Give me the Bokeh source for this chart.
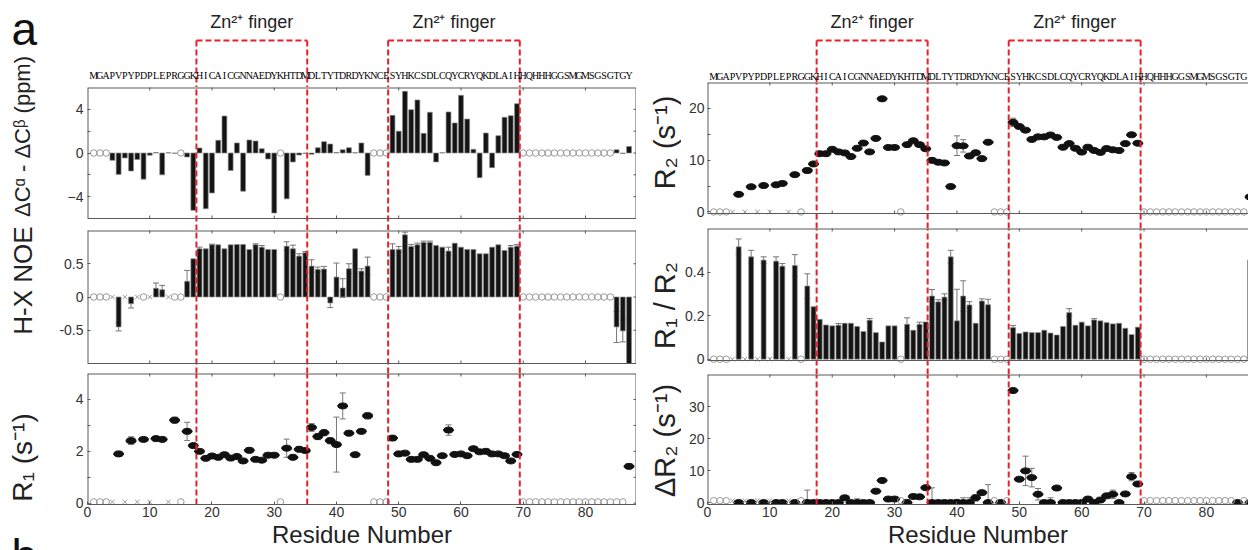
import math
from bokeh.plotting import figure
from bokeh.layouts import row, column
from bokeh.models import (Range1d, LinearAxis, FixedTicker, Whisker, TeeHead, Span,
                          ColumnDataSource, NumeralTickFormatter)
from bokeh.core.properties import value
from bokeh.embed import file_html
from bokeh.resources import INLINE

# ---------------- data ----------------
SEQUENCE = "MGAPVPYPDPLEPRGGKHICAICGNNAEDYKHTDMDLTYTDRDYKNCESYHKCSDLCQYCRYQKDLAIHHQHHHGGSMGMSGSGTGY"
RESIDUES = list(range(1, len(SEQUENCE) + 1))
ZN_FINGERS = [(17.5, 35.3), (48.3, 69.45)]
ZN_LABEL = "Zn²⁺ finger"
X_TICKS = [0, 10, 20, 30, 40, 50, 60, 70, 80]

dca_dcb = {4: -0.67, 5: -1.96, 6: -0.45, 7: -1.65, 8: -0.6, 9: -2.4, 10: -0.2, 11: 0.05,
           12: -2.0, 13: 0.03, 14: -0.03, 16: -0.37, 17: -5.25, 18: 0.46, 19: -5.1,
           20: -3.66, 21: 1.16, 22: 3.39, 23: -1.6, 24: 0.92, 25: -3.5, 26: 1.19, 27: 1.1,
           28: 0.4, 29: -0.55, 30: -5.5, 32: -4.2, 33: -0.82, 34: -0.18, 35: -0.05,
           36: -0.12, 37: 0.49, 38: 1.04, 39: 0.82, 40: 0.05, 41: 0.3, 42: 0.49, 43: 0.03,
           44: 0.92, 45: -2.05, 49: 3.45, 50: 2.0, 51: 5.65, 52: 3.97, 53: 4.86, 54: 1.8,
           55: 3.73, 56: -0.82, 57: 0.03, 58: 3.76, 59: 2.75, 60: 5.28, 61: 3.11, 62: 0.34,
           63: -2.26, 64: 1.83, 65: -1.34, 66: 1.59, 67: 3.27, 68: 3.42, 69: 4.52,
           85: 0.3, 86: -0.05, 87: 0.6}

noe = {5: -0.45, 7: -0.1, 11: 0.13, 12: 0.11, 16: 0.235, 17: 0.575, 18: 0.725, 19: 0.725,
       20: 0.785, 21: 0.785, 22: 0.725, 23: 0.785, 24: 0.79, 25: 0.79, 26: 0.715, 27: 0.785,
       28: 0.75, 29: 0.715, 30: 0.715, 32: 0.765, 33: 0.725, 34: 0.615, 35: 0.665,
       36: 0.465, 37: 0.415, 38: 0.42, 39: -0.09, 40: 0.3, 41: 0.135, 42: 0.425, 43: 0.725,
       44: 0.39, 45: 0.465, 49: 0.715, 50: 0.715, 51: 0.935, 52: 0.76, 53: 0.785, 54: 0.82,
       55: 0.82, 56: 0.775, 57: 0.75, 58: 0.69, 59: 0.81, 60: 0.75, 61: 0.715, 62: 0.715,
       63: 0.65, 64: 0.65, 65: 0.75, 66: 0.785, 67: 0.7, 68: 0.75, 69: 0.765,
       85: -0.45, 86: -0.51, 87: -1.0}
noe_err = {5: 0.06, 7: 0.065, 11: 0.08, 12: 0.065, 16: 0.165, 18: 0.025, 20: 0.01, 27: 0.015,
           28: 0.025, 32: 0.065, 33: 0.055, 34: 0.035, 35: 0.02, 36: 0.095, 37: 0.035,
           38: 0.04, 39: 0.07, 40: 0.21, 41: 0.14, 42: 0.075, 44: 0.035, 45: 0.135,
           49: 0.085, 50: 0.045, 51: 0.04, 52: 0.03, 53: 0.025, 54: 0.02, 55: 0.02, 58: 0.06,
           68: 0.025, 69: 0.025, 85: 0.235, 86: 0.165}

r1 = {5: 1.9, 7: 2.41, 9: 2.46, 11: 2.49, 12: 2.46, 14: 3.2, 16: 2.77, 17: 2.22, 18: 2.0,
      19: 1.73, 20: 1.82, 21: 1.77, 22: 1.87, 23: 1.74, 24: 1.8, 25: 1.63, 26: 2.04,
      27: 1.69, 28: 1.66, 29: 1.85, 30: 1.85, 32: 2.12, 33: 1.77, 34: 2.08, 35: 2.03,
      36: 2.92, 37: 2.57, 38: 2.72, 39: 2.41, 40: 2.26, 41: 3.75, 42: 2.7, 43: 1.87,
      44: 2.77, 45: 3.37, 49: 2.51, 50: 1.9, 51: 1.93, 52: 1.69, 53: 1.69, 54: 1.87,
      55: 1.73, 56: 1.56, 57: 1.83, 58: 2.82, 59: 1.88, 60: 1.9, 61: 1.83, 62: 2.1,
      63: 1.98, 64: 2.0, 65: 1.9, 66: 1.9, 67: 1.83, 68: 1.63, 69: 1.88, 87: 1.42}
r1_err = {5: 0.1, 7: 0.15, 14: 0.12, 16: 0.35, 26: 0.1, 32: 0.35, 34: 0.1, 36: 0.15,
          37: 0.12, 38: 0.12, 39: 0.12, 40: 1.06, 41: 0.5, 42: 0.1, 45: 0.12, 50: 0.1, 58: 0.2}

r2 = {5: 3.4, 7: 4.86, 9: 5.1, 11: 5.24, 12: 5.5, 14: 7.2, 16: 8.0, 17: 9.27, 18: 11.25,
      19: 11.25, 20: 12.1, 21: 11.6, 22: 11.4, 23: 10.7, 24: 12.3, 25: 13.3, 26: 11.6,
      27: 14.2, 28: 21.85, 29: 12.45, 30: 12.45, 32: 13.0, 33: 13.75, 34: 13.0, 35: 12.2,
      36: 9.97, 37: 9.6, 38: 9.46, 39: 4.9, 40: 12.8, 41: 12.76, 42: 10.8, 43: 11.43,
      44: 10.3, 45: 13.46, 49: 17.3, 50: 16.5, 51: 15.8, 52: 14.0, 53: 14.5, 54: 14.5,
      55: 14.86, 56: 14.4, 57: 12.5, 58: 13.2, 59: 12.3, 60: 11.56, 61: 12.5, 62: 11.87,
      63: 11.5, 64: 12.25, 65: 12.0, 66: 11.87, 67: 13.2, 68: 14.9, 69: 13.27, 87: 2.9}
r2_err = {40: 1.9, 41: 1.2, 45: 0.4, 49: 0.8}

r1r2 = {5: 0.516, 7: 0.47, 9: 0.455, 11: 0.45, 12: 0.427, 14: 0.43, 16: 0.336, 17: 0.241,
        18: 0.183, 19: 0.157, 20: 0.153, 21: 0.156, 22: 0.165, 23: 0.165, 24: 0.15,
        25: 0.127, 26: 0.179, 27: 0.122, 28: 0.079, 29: 0.153, 30: 0.153, 32: 0.16,
        33: 0.133, 34: 0.16, 35: 0.171, 36: 0.29, 37: 0.263, 38: 0.285, 39: 0.47, 40: 0.176,
        41: 0.29, 42: 0.249, 43: 0.165, 44: 0.267, 45: 0.25, 49: 0.145, 50: 0.118,
        51: 0.125, 52: 0.122, 53: 0.122, 54: 0.133, 55: 0.12, 56: 0.111, 57: 0.15,
        58: 0.214, 59: 0.156, 60: 0.17, 61: 0.153, 62: 0.18, 63: 0.176, 64: 0.168,
        65: 0.162, 66: 0.165, 67: 0.142, 68: 0.113, 69: 0.147, 87: 0.455}
r1r2_err = {5: 0.036, 7: 0.03, 9: 0.015, 11: 0.02, 12: 0.012, 14: 0.05, 16: 0.056, 21: 0.008,
            26: 0.008, 32: 0.03, 34: 0.01, 36: 0.03, 37: 0.01, 38: 0.015, 39: 0.03,
            40: 0.145, 41: 0.07, 42: 0.015, 44: 0.01, 45: 0.025, 49: 0.01, 58: 0.018, 62: 0.006}

dr2 = {5: 0, 7: 0, 9: 0, 11: 0, 12: 0, 14: 0, 16: 0, 17: 0, 18: 0, 19: 0, 20: 0, 21: 0,
       22: 1.5, 23: 0, 24: 0, 25: 0, 26: 0, 27: 3.55, 28: 6.9, 29: 1.1, 30: 1.1, 32: 0,
       33: 1.9, 34: 1.8, 35: 4.65, 36: 0, 37: 0, 38: 0, 39: 0, 40: 0, 41: 0, 42: 0, 43: 1.5,
       44: 3.1, 45: 0, 47: 0, 49: 35.0, 50: 7.3, 51: 9.9, 52: 7.8, 53: 2.6, 54: 0, 55: 0,
       56: 4.55, 57: 0, 58: 0, 59: 0, 60: 0, 61: 1.1, 62: 0, 63: 0.8, 64: 2.1, 65: 2.6,
       66: 0, 67: 2.7, 68: 8.1, 69: 5.8, 85: 0, 87: 0}
dr2_err = {16: 3.9, 24: 1.2, 32: 1.0, 36: 4.6, 40: 1.0, 41: 1.5, 42: 1.5, 43: 1.0, 45: 5.6,
           51: 4.6, 52: 2.9, 53: 1.8, 55: 1.5, 65: 1.3, 68: 1.3}

# ---------------- style / layout constants ----------------
FONT = "Liberation Sans"
RED = "#e8202a"
FRAME = "#5a5a5a"
GRAY = "#9a9a9a"
TXT = "#222222"
TOTAL_H = 550

# left column: label strip 0-50, panels 50-636 (frame 87-636)
L_LAB_W, L_W, L_BL, L_XEND = 50, 586, 37, 88.2
L_H = dict(head=87, p1=131, g1=12, p2=133, g2=10, p3=130, ax=47)
# right column: label strip 636-681, panels 681-1248 (frame 707-1248)
R_LAB_W, R_W, R_BL, R_XEND = 45, 567, 26, 86.75
R_H = dict(head=82, p1=131, g1=15, p2=132, g2=14, p3=130, ax=46)


def zero_borders(bl=0):
    return dict(min_border_left=bl, min_border_right=0, min_border_top=0, min_border_bottom=0)


def base_fig(width, height, x_range, y_range, **kw):
    p = figure(width=width, height=height, x_range=x_range, y_range=y_range,
               output_backend="svg", toolbar_location=None,
               x_axis_location=None, y_axis_location=None, **kw)
    p.grid.visible = False
    return p


def make_axis(ticks, minor=(), fmt=None, standoff=4):
    ax = LinearAxis(ticker=FixedTicker(ticks=list(ticks), minor_ticks=list(minor)))
    ax.axis_line_color = FRAME
    ax.major_tick_line_color = FRAME
    ax.minor_tick_line_color = FRAME
    ax.major_tick_in = 3
    ax.major_tick_out = 0
    ax.minor_tick_in = 3
    ax.minor_tick_out = 0
    ax.major_label_text_font = FONT
    ax.major_label_text_font_size = "14px"
    ax.major_label_text_color = "#333333"
    ax.major_label_standoff = standoff
    if fmt:
        ax.formatter = NumeralTickFormatter(format=fmt)
    return ax


def panel(width, bl, xend, frame_h, gap_h, ax_h, yr, yticks, yminor, right_edge,
          bottom_labels, fmt=None, standoff=4):
    """One stacked panel; its frame runs on through the gap below it so that the
    red domain lines stay continuous and edge labels are not clipped."""
    y0, y1 = yr
    upp = (y1 - y0) / frame_h          # data units per pixel
    ystart = y0 - gap_h * upp
    height = frame_h + gap_h + (ax_h if bottom_labels else 0)
    p = base_fig(width, height, Range1d(0, xend), Range1d(ystart, y1),
                 outline_line_color=None, **zero_borders(bl))
    yax = make_axis(yticks, yminor, fmt, standoff)
    yax.axis_line_color = None
    p.add_layout(yax, "left")

    edges = [0] + ([xend] if right_edge else [])
    p.segment(x0=edges, y0=[y0] * len(edges), x1=edges, y1=[y1] * len(edges),
              line_color=FRAME, line_width=2)
    p.add_layout(Span(location=y1, dimension="width", line_color=FRAME, line_width=2))

    tick_xs = [t for t in X_TICKS if t > 0]
    p.scatter(tick_xs, [y1] * len(tick_xs), marker="dash", angle=math.pi / 2, size=6,
              line_color=FRAME, line_width=1)
    if bottom_labels:
        bx = make_axis(X_TICKS, standoff=2)
        bx.axis_label = "Residue Number"
        bx.axis_label_text_font = FONT
        bx.axis_label_text_font_size = "24px"
        bx.axis_label_text_font_style = "normal"
        bx.axis_label_text_color = TXT
        bx.axis_label_standoff = 1
        p.add_layout(bx, "below")
    else:
        p.add_layout(Span(location=y0, dimension="width", line_color=FRAME, line_width=1))
        p.segment(x0=tick_xs, y0=[y0] * len(tick_xs), x1=tick_xs,
                  y1=[y0 + 3 * upp] * len(tick_xs), line_color=FRAME, line_width=1)
    if right_edge:
        ys = list(yticks) + list(yminor)
        p.scatter([xend] * len(ys), ys, marker="dash", size=6, line_color=FRAME,
                  line_width=1)
    return p, ystart


def add_err(p, data, err):
    xs = [r for r in err if r in data]
    src = ColumnDataSource(dict(x=xs, lo=[data[r] - err[r] for r in xs],
                                hi=[data[r] + err[r] for r in xs]))
    w = Whisker(source=src, base="x", upper="hi", lower="lo", line_color="#777777",
                line_width=1,
                upper_head=TeeHead(size=6, line_color="#777777", line_width=1),
                lower_head=TeeHead(size=6, line_color="#777777", line_width=1))
    p.add_layout(w)


def add_bars(p, data):
    xs = list(data.keys())
    p.vbar(x=xs, top=[data[r] for r in xs], bottom=0, width=0.78,
           fill_color="#141414", line_color="#8a8a8a", line_width=0.7)


def add_points(p, data):
    xs = list(data.keys())
    p.ellipse(x=xs, y=[data[r] for r in xs], width=10, height=6,
              width_units="screen", height_units="screen",
              fill_color="#111111", line_color="#111111")


def add_missing(p, data, y0):
    miss = [r for r in RESIDUES if r not in data]
    circ = [r for r in miss if SEQUENCE[r - 1] != "P"]
    cross = [r for r in miss if SEQUENCE[r - 1] == "P"]
    p.scatter(circ, [y0] * len(circ), marker="circle", size=6.5, fill_color=None,
              line_color=GRAY, line_width=1)
    p.scatter(cross, [y0] * len(cross), marker="x", size=6.5, line_color=GRAY,
              line_width=1)


def add_bounds(p, y0, y1):
    xs = [b for pair in ZN_FINGERS for b in pair]
    p.segment(x0=xs, y0=[y0] * len(xs), x1=xs, y1=[y1] * len(xs),
              line_color=RED, line_width=2, line_dash="6 3")


def header(width, h, bl, xend, zn_y, br_y, seq_y):
    p = base_fig(width, h, Range1d(0, xend), Range1d(0, h), outline_line_color=None,
                 **zero_borders(bl))
    xs = [b for pair in ZN_FINGERS for b in pair]
    p.segment(x0=xs, y0=[br_y] * len(xs), x1=xs, y1=[0] * len(xs),
              line_color=RED, line_width=2, line_dash="6 3")
    p.segment(x0=[a for a, b in ZN_FINGERS], y0=[br_y] * 2,
              x1=[b for a, b in ZN_FINGERS], y1=[br_y] * 2,
              line_color=RED, line_width=2, line_dash="6 3")
    p.text(x=[(a + b) / 2 for a, b in ZN_FINGERS], y=[zn_y] * 2, text=[ZN_LABEL] * 2,
           text_font=value(FONT), text_font_size="18px", text_align="center",
           text_baseline="middle", text_color=TXT)
    shown = [r for r in RESIDUES if r <= xend - 0.5]
    p.text(x=shown, y=[seq_y] * len(shown), text=[SEQUENCE[r - 1] for r in shown],
           text_font=value("Liberation Serif"), text_font_size="10px", text_align="center",
           text_baseline="middle", text_color="#000000")
    return p


def label_strip(width, items, letters=()):
    p = base_fig(width, TOTAL_H, Range1d(0, width), Range1d(0, TOTAL_H),
                 outline_line_color=None, **zero_borders())
    for txt, x, y, size in items:
        p.text(x=[x], y=[y], text=[txt], angle=math.pi / 2, text_align="center",
               text_baseline="middle", text_font=value(FONT), text_font_size=size,
               text_color=TXT)
    for txt, x, y in letters:
        p.text(x=[x], y=[y], text=[txt], text_font=value(FONT), text_font_size="46px",
               text_align="left", text_baseline="middle", text_color="#111111")
    return p


def build_column(width, bl, xend, H, specs, seq_y, right_edge, standoff):
    figs = [header(width, H["head"], bl, xend, zn_y=H["head"] - 21, br_y=H["head"] - 40,
                   seq_y=seq_y)]
    for key, gap_key, spec in zip(["p1", "p2", "p3"], ["g1", "g2", None], specs):
        data, err, kind, yr, yticks, yminor, fmt, y0m = spec
        last = gap_key is None
        p, ystart = panel(width, bl, xend, H[key], 0 if last else H[gap_key], H["ax"], yr,
                          yticks, yminor, right_edge=right_edge, bottom_labels=last,
                          fmt=fmt, standoff=standoff)
        if err:
            add_err(p, data, err)
        if kind == "bar":
            add_bars(p, data)
        else:
            add_points(p, data)
        add_missing(p, data, y0m)
        add_bounds(p, ystart, yr[1])
        figs.append(p)
    return column(*figs)


left_col = build_column(L_W, L_BL, L_XEND, L_H, [
    (dca_dcb, None, "bar", (-6, 6), [-4, 0, 4], [-2, 2], None, 0),
    (noe, noe_err, "bar", (-1, 1), [-0.5, 0, 0.5], [], "0.[0]", 0),
    (r1, r1_err, "point", (-0.05, 5), [0, 2, 4], [1, 3], None, 0.05),
], seq_y=12, right_edge=True, standoff=4)

right_col = build_column(R_W, R_BL, R_XEND, R_H, [
    (r2, r2_err, "point", (-0.3, 25), [0, 10, 20], [5, 15], None, 0),
    (r1r2, r1r2_err, "bar", (-0.006, 0.6), [0, 0.2, 0.4], [], "0.[0]", 0),
    (dr2, dr2_err, "point", (-0.6, 40), [0, 10, 20, 30], [], None, 0.6),
], seq_y=6.5, right_edge=False, standoff=3)

left_lab = label_strip(L_LAB_W, [("ΔCᵅ - ΔCᵝ (ppm)", 22, 414, "22px"),
                                 ("H-X NOE", 22, 270, "26px"),
                                 ("R₁ (s⁻¹)", 22, 93, "28px")],
                       letters=[("a", 11, 522), ("b", 11, -5)])
right_lab = label_strip(R_LAB_W, [("R₂ (s⁻¹)", 28, 408, "29px"),
                                  ("R₁ / R₂", 28, 245, "29px"),
                                  ("ΔR₂ (s⁻¹)", 28, 110, "29px")])

layout = row(left_lab, left_col, right_lab, right_col)
open("out.html", "w").write(file_html(layout, INLINE))
